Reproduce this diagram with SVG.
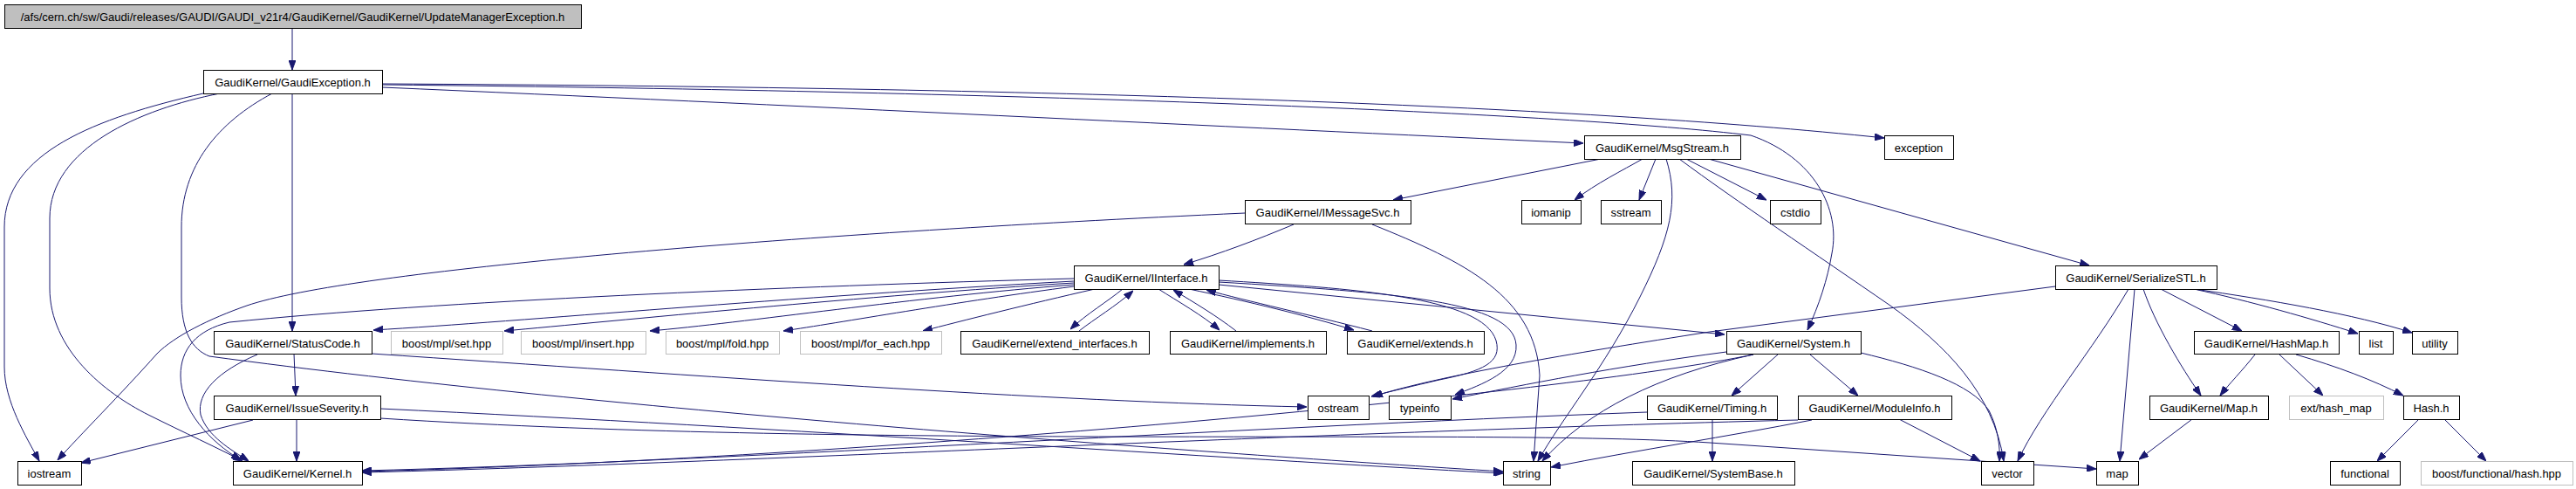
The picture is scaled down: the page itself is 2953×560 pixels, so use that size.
<svg xmlns="http://www.w3.org/2000/svg" width="2953" height="560" viewBox="0 0 2953 560">
<style>
.n rect{fill:#fff;stroke:#000;stroke-width:1}
.n.ext rect{stroke:#bfbfbf}
.n.root rect{fill:#bfbfbf}
.n text{font-family:"Liberation Sans",Arial,sans-serif;font-size:13px;fill:#000;text-anchor:middle}
#edges path{fill:none;stroke:#191970;stroke-width:1;marker-end:url(#a)}
</style>
<defs>
<marker id="a" markerWidth="11" markerHeight="8" refX="11" refY="4" orient="auto" markerUnits="userSpaceOnUse"><path d="M0,0 L11,4 L0,8 z" fill="#191970" stroke="#191970" stroke-width="1"/></marker>
</defs>
<rect width="2953" height="560" fill="#fff"/>
<g id="edges">
<path d="M335,32 L335,80"/>
<path d="M233,107 C110,135 5,175 5,260 L5,420 C5,460 30,500 45,528"/>
<path d="M252,107 C160,125 57,170 57,250 L57,330 C57,400 120,450 170,475 C210,495 250,513 278,528"/>
<path d="M312,107 C250,140 208,190 208,260 L208,340 C208,380 220,400 240,408 C700,470 1400,520 1723,540"/>
<path d="M335,107 L335,379"/>
<path d="M438,100 C900,120 1400,145 1815,164"/>
<path d="M438,96 C1200,100 1800,120 2160,158"/>
<path d="M438,97 C1200,105 1800,130 2007,155 C2080,180 2110,240 2100,290 C2095,320 2085,350 2072,378"/>
<path d="M1835,182 L1597,229"/>
<path d="M1883,182 C1860,195 1830,210 1805,229"/>
<path d="M1898,182 L1879,229"/>
<path d="M1933,182 L2025,229"/>
<path d="M1910,182 C1925,230 1915,270 1880,340 C1840,420 1790,480 1763,528"/>
<path d="M1925,182 C1990,230 2080,290 2167,350 C2230,395 2285,450 2297,528"/>
<path d="M1955,181 L2395,304"/>
<path d="M1483,257 C1440,275 1400,290 1357,303"/>
<path d="M1427,244 C900,268 400,310 283,350 C240,365 200,385 180,405 C140,450 90,500 66,527"/>
<path d="M1573,257 C1680,300 1760,340 1765,430 L1758,528"/>
<path d="M1231,319 C900,328 500,345 263,369 C225,378 207,400 207,430 C207,470 240,505 276,527"/>
<path d="M1231,322 C900,340 600,368 428,378"/>
<path d="M1231,324 C1000,338 700,368 578,379"/>
<path d="M1231,326 C1050,340 850,370 745,379"/>
<path d="M1231,328 C1100,345 960,370 898,379"/>
<path d="M1255,331 C1180,348 1100,368 1058,379"/>
<path d="M1287,331 C1270,345 1245,360 1227,377"/>
<path d="M1237,379 C1255,365 1280,350 1299,333"/>
<path d="M1328,331 C1350,345 1380,362 1398,378"/>
<path d="M1417,379 C1395,362 1370,347 1345,332"/>
<path d="M1363,331 C1430,345 1500,362 1552,378"/>
<path d="M1573,379 C1500,360 1430,345 1383,332"/>
<path d="M1397,326 L1977,383"/>
<path d="M1397,321 C1550,330 1700,340 1715,390 C1722,415 1700,425 1650,435 C1620,442 1595,448 1572,454"/>
<path d="M1397,323 C1600,335 1735,345 1738,395 C1740,425 1700,440 1668,452"/>
<path d="M426,405 C800,430 1200,460 1498,466"/>
<path d="M337,405 L339,453"/>
<path d="M295,406 C250,425 225,450 230,475 C238,500 265,515 285,528"/>
<path d="M340,480 L340,528"/>
<path d="M290,481 L93,530"/>
<path d="M436,468 C900,490 1400,525 1723,542"/>
<path d="M436,479 C1000,515 1700,490 1960,507 L2403,537"/>
<path d="M2038,406 L1985,453"/>
<path d="M2075,406 L2130,453"/>
<path d="M2133,404 C2200,420 2260,440 2280,470 C2290,490 2293,510 2292,528"/>
<path d="M1979,403 C1850,420 1750,440 1665,457"/>
<path d="M2010,406 C1900,430 1820,470 1768,528"/>
<path d="M2010,406 C1800,450 1000,525 415,540"/>
<path d="M1888,472 C1400,490 800,530 415,539"/>
<path d="M1963,480 L1963,528"/>
<path d="M2061,481 C1500,495 800,532 415,541"/>
<path d="M2077,481 C1980,500 1880,515 1778,535"/>
<path d="M2177,480 L2270,528"/>
<path d="M2356,328 L1960,380 C1800,405 1650,430 1574,454"/>
<path d="M2440,331 C2400,400 2340,470 2313,528"/>
<path d="M2447,331 L2430,528"/>
<path d="M2457,331 C2470,370 2500,420 2523,453"/>
<path d="M2477,331 L2570,379"/>
<path d="M2515,331 C2580,345 2650,365 2703,382"/>
<path d="M2515,331 C2600,343 2700,360 2765,381"/>
<path d="M2585,406 C2570,425 2555,440 2545,453"/>
<path d="M2613,406 L2663,453"/>
<path d="M2632,406 C2680,420 2720,435 2755,453"/>
<path d="M2513,480 L2452,526"/>
<path d="M2773,480 L2725,528"/>
<path d="M2802,480 L2850,528"/>
</g>
<g id="n_root" class="n root"><rect x="5.5" y="5.5" width="661" height="27"/><text x="335.5" y="24">/afs/cern.ch/sw/Gaudi/releases/GAUDI/GAUDI_v21r4/GaudiKernel/GaudiKernel/UpdateManagerException.h</text></g>
<g id="n_GaudiException" class="n"><rect x="233.5" y="80.5" width="205" height="27"/><text x="335.5" y="99">GaudiKernel/GaudiException.h</text></g>
<g id="n_MsgStream" class="n"><rect x="1816.5" y="155.5" width="179" height="27"/><text x="1905.5" y="174">GaudiKernel/MsgStream.h</text></g>
<g id="n_exception" class="n"><rect x="2160.5" y="155.5" width="79" height="27"/><text x="2199.5" y="174">exception</text></g>
<g id="n_IMessageSvc" class="n"><rect x="1427.5" y="229.5" width="190" height="27"/><text x="1522" y="248">GaudiKernel/IMessageSvc.h</text></g>
<g id="n_iomanip" class="n"><rect x="1744.5" y="229.5" width="68" height="27"/><text x="1778" y="248">iomanip</text></g>
<g id="n_sstream" class="n"><rect x="1835.5" y="229.5" width="69" height="27"/><text x="1869.5" y="248">sstream</text></g>
<g id="n_cstdio" class="n"><rect x="2029.5" y="229.5" width="58" height="27"/><text x="2058" y="248">cstdio</text></g>
<g id="n_IInterface" class="n"><rect x="1231.5" y="304.5" width="166" height="27"/><text x="1314" y="323">GaudiKernel/IInterface.h</text></g>
<g id="n_SerializeSTL" class="n"><rect x="2356.5" y="304.5" width="185" height="27"/><text x="2448.5" y="323">GaudiKernel/SerializeSTL.h</text></g>
<g id="n_StatusCode" class="n"><rect x="245.5" y="379.5" width="181" height="26"/><text x="335.5" y="397.5">GaudiKernel/StatusCode.h</text></g>
<g id="n_set" class="n ext"><rect x="448.5" y="379.5" width="128" height="26"/><text x="512" y="397.5">boost/mpl/set.hpp</text></g>
<g id="n_insert" class="n ext"><rect x="597.5" y="379.5" width="143" height="26"/><text x="668.5" y="397.5">boost/mpl/insert.hpp</text></g>
<g id="n_fold" class="n ext"><rect x="763.5" y="379.5" width="130" height="26"/><text x="828" y="397.5">boost/mpl/fold.hpp</text></g>
<g id="n_for_each" class="n ext"><rect x="917.5" y="379.5" width="162" height="26"/><text x="998" y="397.5">boost/mpl/for_each.hpp</text></g>
<g id="n_extend_interfaces" class="n"><rect x="1101.5" y="379.5" width="216" height="26"/><text x="1209" y="397.5">GaudiKernel/extend_interfaces.h</text></g>
<g id="n_implements" class="n"><rect x="1341.5" y="379.5" width="179" height="26"/><text x="1430.5" y="397.5">GaudiKernel/implements.h</text></g>
<g id="n_extends" class="n"><rect x="1544.5" y="379.5" width="157" height="26"/><text x="1622.5" y="397.5">GaudiKernel/extends.h</text></g>
<g id="n_System" class="n"><rect x="1979.5" y="379.5" width="154" height="26"/><text x="2056" y="397.5">GaudiKernel/System.h</text></g>
<g id="n_HashMap" class="n"><rect x="2515.5" y="379.5" width="166" height="26"/><text x="2598" y="397.5">GaudiKernel/HashMap.h</text></g>
<g id="n_list" class="n"><rect x="2704.5" y="379.5" width="39" height="26"/><text x="2723.5" y="397.5">list</text></g>
<g id="n_utility" class="n"><rect x="2765.5" y="379.5" width="52" height="26"/><text x="2791" y="397.5">utility</text></g>
<g id="n_IssueSeverity" class="n"><rect x="245.5" y="453.5" width="191" height="27"/><text x="340.5" y="472">GaudiKernel/IssueSeverity.h</text></g>
<g id="n_ostream" class="n"><rect x="1499.5" y="453.5" width="70" height="27"/><text x="1534" y="472">ostream</text></g>
<g id="n_typeinfo" class="n"><rect x="1592.5" y="453.5" width="71" height="27"/><text x="1627.5" y="472">typeinfo</text></g>
<g id="n_Timing" class="n"><rect x="1888.5" y="453.5" width="149" height="27"/><text x="1962.5" y="472">GaudiKernel/Timing.h</text></g>
<g id="n_ModuleInfo" class="n"><rect x="2061.5" y="453.5" width="176" height="27"/><text x="2149" y="472">GaudiKernel/ModuleInfo.h</text></g>
<g id="n_Map" class="n"><rect x="2464.5" y="453.5" width="136" height="27"/><text x="2532" y="472">GaudiKernel/Map.h</text></g>
<g id="n_hash_map" class="n ext"><rect x="2624.5" y="453.5" width="108" height="27"/><text x="2678" y="472">ext/hash_map</text></g>
<g id="n_Hash" class="n"><rect x="2755.5" y="453.5" width="64" height="27"/><text x="2787" y="472">Hash.h</text></g>
<g id="n_iostream" class="n"><rect x="20.5" y="528.5" width="73" height="27"/><text x="56.5" y="547">iostream</text></g>
<g id="n_Kernel" class="n"><rect x="267.5" y="528.5" width="148" height="27"/><text x="341" y="547">GaudiKernel/Kernel.h</text></g>
<g id="n_string" class="n"><rect x="1723.5" y="528.5" width="54" height="27"/><text x="1750" y="547">string</text></g>
<g id="n_SystemBase" class="n"><rect x="1871.5" y="528.5" width="186" height="27"/><text x="1964" y="547">GaudiKernel/SystemBase.h</text></g>
<g id="n_vector" class="n"><rect x="2271.5" y="528.5" width="60" height="27"/><text x="2301" y="547">vector</text></g>
<g id="n_map" class="n"><rect x="2403.5" y="528.5" width="48" height="27"/><text x="2427" y="547">map</text></g>
<g id="n_functional" class="n"><rect x="2671.5" y="528.5" width="80" height="27"/><text x="2711" y="547">functional</text></g>
<g id="n_boost_hash" class="n ext"><rect x="2775.5" y="528.5" width="174" height="27"/><text x="2862" y="547">boost/functional/hash.hpp</text></g>
</svg>
